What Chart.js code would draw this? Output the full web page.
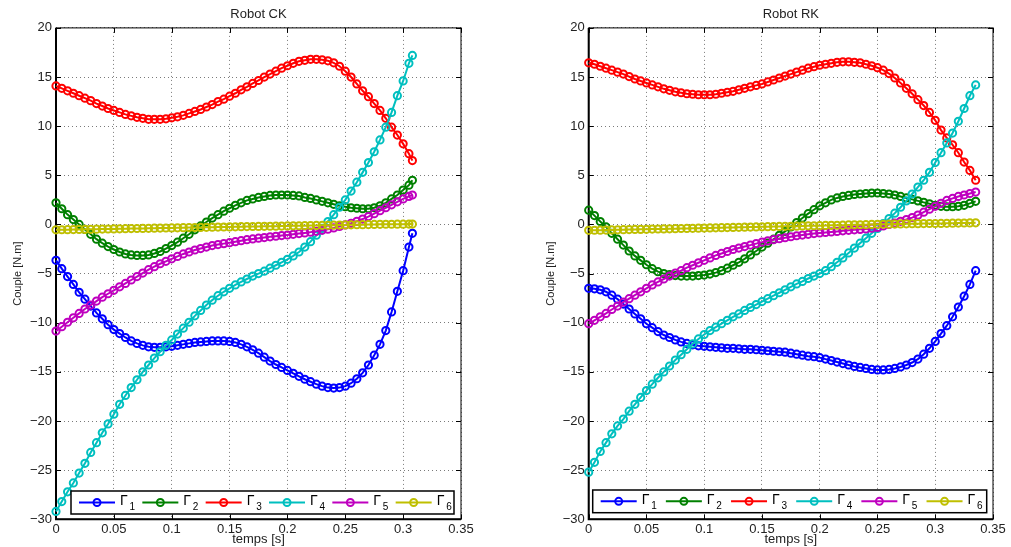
<!DOCTYPE html>
<html>
<head>
<meta charset="utf-8">
<script src="https://cdn.jsdelivr.net/npm/chart.js@4/dist/chart.umd.min.js"></script>
<style>
  html, body { margin: 0; padding: 0; background: #fff; overflow: hidden; }
  #ck { position: absolute; left: 0; top: 0; }
  #rk { position: absolute; left: 532px; top: 0; }
</style>
</head>
<body>
<canvas id="ck" width="500" height="547"></canvas>
<canvas id="rk" width="479" height="547"></canvas>
<script>
// series names and colours (MATLAB default order)
var names = ["Γ1", "Γ2", "Γ3", "Γ4", "Γ5", "Γ6"];
var colors = ["#0000ff", "#008000", "#ff0000", "#00bfbf", "#bf00bf", "#bfbf00"];

// ---- Robot CK ----
var tCK = [
  0, 0.005, 0.01, 0.015, 0.02, 0.025, 0.03, 0.035, 0.04, 0.045,
  0.05, 0.055, 0.06, 0.065, 0.07, 0.075, 0.08, 0.085, 0.09, 0.095,
  0.1, 0.105, 0.11, 0.115, 0.12, 0.125, 0.13, 0.135, 0.14, 0.145,
  0.15, 0.155, 0.16, 0.165, 0.17, 0.175, 0.18, 0.185, 0.19, 0.195,
  0.2, 0.205, 0.21, 0.215, 0.22, 0.225, 0.23, 0.235, 0.24, 0.245,
  0.25, 0.255, 0.26, 0.265, 0.27, 0.275, 0.28, 0.285, 0.29, 0.295,
  0.3, 0.305, 0.308
];
var ckG1 = [
  -3.65, -4.5, -5.3, -6.1, -6.9, -7.6, -8.3, -9.0, -9.6, -10.2,
  -10.7, -11.1, -11.5, -11.85, -12.1, -12.3, -12.45, -12.5, -12.5, -12.45,
  -12.4, -12.3, -12.2, -12.1, -12.0, -11.95, -11.9, -11.85, -11.85, -11.85,
  -11.9, -12.0, -12.2, -12.45, -12.75, -13.1, -13.5, -13.9, -14.25, -14.55,
  -14.85, -15.15, -15.45, -15.75, -16.0, -16.25, -16.45, -16.6, -16.65, -16.6,
  -16.45, -16.15, -15.7, -15.1, -14.3, -13.3, -12.2, -10.8, -8.9, -6.8,
  -4.7, -2.3, -0.9
];
var ckG2 = [
  2.2, 1.6, 1.0, 0.5, 0.0, -0.5, -1.0, -1.5, -1.9, -2.25,
  -2.55, -2.8, -3.0, -3.1, -3.15, -3.15, -3.1, -2.95, -2.75, -2.45,
  -2.15, -1.8, -1.4, -1.0, -0.55, -0.15, 0.25, 0.65, 1.0, 1.35,
  1.65, 1.95, 2.2, 2.45, 2.6, 2.75, 2.85, 2.95, 3.0, 3.0,
  3.0, 2.95, 2.9, 2.75, 2.65, 2.5, 2.35, 2.2, 2.05, 1.9,
  1.8, 1.7, 1.65, 1.6, 1.6, 1.7, 1.9, 2.2, 2.6, 3.0,
  3.5, 4.0, 4.5
];
var ckG3 = [
  14.1, 13.85, 13.6, 13.35, 13.1, 12.85, 12.6, 12.3, 12.05, 11.8,
  11.6, 11.4, 11.2, 11.05, 10.9, 10.8, 10.7, 10.7, 10.7, 10.75,
  10.85, 10.95, 11.1, 11.3, 11.5, 11.7, 11.95, 12.2, 12.5, 12.75,
  13.05, 13.35, 13.7, 14.0, 14.35, 14.65, 15.0, 15.3, 15.6, 15.9,
  16.15, 16.4, 16.6, 16.7, 16.8, 16.8, 16.75, 16.65, 16.45, 16.1,
  15.6, 15.0, 14.3, 13.6, 13.0, 12.3, 11.6, 10.8, 9.9, 9.1,
  8.2, 7.2, 6.5
];
var ckG4 = [
  -29.2, -28.2, -27.2, -26.3, -25.3, -24.3, -23.2, -22.2, -21.2, -20.3,
  -19.3, -18.3, -17.4, -16.6, -15.8, -15.0, -14.3, -13.6, -12.95, -12.3,
  -11.75, -11.15, -10.55, -9.95, -9.3, -8.75, -8.2, -7.7, -7.25, -6.85,
  -6.5, -6.15, -5.85, -5.55, -5.25, -5.0, -4.75, -4.45, -4.15, -3.85,
  -3.55, -3.2, -2.8, -2.3, -1.75, -1.1, -0.4, 0.3, 1.0, 1.75,
  2.5, 3.4, 4.3, 5.3, 6.3, 7.4, 8.6, 9.9, 11.4, 13.1,
  14.6, 16.4, 17.2
];
var ckG5 = [
  -10.85, -10.4, -9.95, -9.5, -9.05, -8.6, -8.2, -7.8, -7.4, -7.05,
  -6.7, -6.35, -6.0, -5.65, -5.3, -4.95, -4.6, -4.3, -4.0, -3.75,
  -3.5, -3.25, -3.0, -2.8, -2.6, -2.45, -2.3, -2.15, -2.05, -1.95,
  -1.85, -1.75, -1.65, -1.55, -1.47, -1.4, -1.33, -1.26, -1.2, -1.13,
  -1.07, -1.0, -0.93, -0.86, -0.78, -0.7, -0.6, -0.48, -0.35, -0.2,
  -0.05, 0.12, 0.32, 0.55, 0.8, 1.1, 1.4, 1.7, 2.0, 2.3,
  2.6, 2.85, 3.0
];
var ckG6 = [
  -0.55, -0.54, -0.53, -0.52, -0.51, -0.5, -0.49, -0.48, -0.47, -0.46,
  -0.45, -0.44, -0.43, -0.42, -0.41, -0.4, -0.39, -0.38, -0.37, -0.36,
  -0.35, -0.34, -0.33, -0.32, -0.31, -0.3, -0.29, -0.28, -0.27, -0.26,
  -0.25, -0.24, -0.23, -0.22, -0.21, -0.2, -0.19, -0.18, -0.17, -0.16,
  -0.15, -0.14, -0.13, -0.12, -0.11, -0.1, -0.09, -0.08, -0.07, -0.06,
  -0.05, -0.04, -0.03, -0.02, -0.01, 0.0, 0.01, 0.02, 0.02, 0.03,
  0.03, 0.04, 0.04
];

// ---- Robot RK ----
var tRK = [
  0, 0.005, 0.01, 0.015, 0.02, 0.025, 0.03, 0.035, 0.04, 0.045,
  0.05, 0.055, 0.06, 0.065, 0.07, 0.075, 0.08, 0.085, 0.09, 0.095,
  0.1, 0.105, 0.11, 0.115, 0.12, 0.125, 0.13, 0.135, 0.14, 0.145,
  0.15, 0.155, 0.16, 0.165, 0.17, 0.175, 0.18, 0.185, 0.19, 0.195,
  0.2, 0.205, 0.21, 0.215, 0.22, 0.225, 0.23, 0.235, 0.24, 0.245,
  0.25, 0.255, 0.26, 0.265, 0.27, 0.275, 0.28, 0.285, 0.29, 0.295,
  0.3, 0.305, 0.31, 0.315, 0.32, 0.325, 0.33, 0.335
];
var rkG1 = [
  -6.5, -6.55, -6.65, -6.85, -7.2, -7.6, -8.1, -8.6, -9.1, -9.6,
  -10.1, -10.5, -10.9, -11.25, -11.5, -11.75, -11.95, -12.1, -12.25, -12.35,
  -12.4, -12.45, -12.5, -12.55, -12.6, -12.6, -12.65, -12.7, -12.7, -12.75,
  -12.8, -12.85, -12.9, -12.95, -13.0, -13.1, -13.2, -13.3, -13.4, -13.45,
  -13.55, -13.7, -13.85, -14.0, -14.15, -14.3, -14.45, -14.55, -14.65, -14.75,
  -14.8, -14.8, -14.75, -14.65, -14.5, -14.3, -14.05, -13.7, -13.2, -12.6,
  -11.9, -11.1, -10.3, -9.4, -8.4, -7.3, -6.1, -4.7
];
var rkG2 = [
  1.45, 0.9, 0.3, -0.25, -0.9, -1.5, -2.1, -2.7, -3.2, -3.65,
  -4.1, -4.5, -4.8, -5.0, -5.1, -5.2, -5.25, -5.25, -5.25, -5.2,
  -5.15, -5.05, -4.9, -4.7, -4.45, -4.15, -3.85, -3.5, -3.1, -2.7,
  -2.3, -1.9, -1.5, -1.1, -0.7, -0.25, 0.2, 0.65, 1.1, 1.5,
  1.9, 2.2, 2.5, 2.7, 2.85, 2.95, 3.05, 3.1, 3.15, 3.2,
  3.2, 3.15, 3.1, 3.0, 2.85, 2.7, 2.55, 2.4, 2.25, 2.1,
  1.95, 1.85, 1.8, 1.8, 1.85, 1.95, 2.15, 2.35
];
var rkG3 = [
  16.45, 16.3, 16.1, 15.9, 15.7, 15.5, 15.3, 15.05, 14.8, 14.6,
  14.4, 14.2, 14.0, 13.8, 13.65, 13.5, 13.4, 13.3, 13.25, 13.2,
  13.2, 13.2, 13.25, 13.35, 13.45, 13.55, 13.7, 13.85, 14.0, 14.15,
  14.3, 14.5, 14.7, 14.9, 15.1, 15.3, 15.5, 15.7, 15.9, 16.05,
  16.2, 16.3, 16.4, 16.5, 16.55, 16.55, 16.5, 16.45, 16.3, 16.15,
  15.95, 15.7, 15.35, 14.9, 14.4, 13.85, 13.3, 12.7, 12.1, 11.4,
  10.6, 9.6, 8.8, 8.1, 7.3, 6.35, 5.5, 4.5
];
var rkG4 = [
  -25.2, -24.2, -23.1, -22.2, -21.3, -20.5, -19.8, -19.0, -18.3, -17.6,
  -16.9, -16.25, -15.6, -15.0, -14.4, -13.8, -13.25, -12.7, -12.15, -11.65,
  -11.2, -10.8, -10.45, -10.1, -9.75, -9.4, -9.1, -8.75, -8.45, -8.15,
  -7.85, -7.55, -7.25, -6.95, -6.65, -6.35, -6.05, -5.8, -5.5, -5.25,
  -5.0, -4.7, -4.3, -3.85, -3.4, -2.9, -2.4, -1.9, -1.4, -0.9,
  -0.4, 0.1, 0.6, 1.15, 1.75, 2.4, 3.1, 3.8, 4.5, 5.3,
  6.3, 7.3, 8.3, 9.3, 10.5, 11.8, 13.1, 14.2
];
var rkG5 = [
  -10.1, -9.75, -9.4, -9.05, -8.65, -8.3, -7.9, -7.55, -7.2, -6.85,
  -6.5, -6.15, -5.85, -5.55, -5.25, -4.95, -4.7, -4.4, -4.15, -3.9,
  -3.65, -3.4, -3.15, -2.95, -2.75, -2.55, -2.4, -2.25, -2.1, -1.95,
  -1.8, -1.67, -1.55, -1.45, -1.35, -1.25, -1.15, -1.08, -1.0, -0.93,
  -0.87, -0.82, -0.76, -0.71, -0.65, -0.6, -0.55, -0.5, -0.45, -0.38,
  -0.3, -0.15, 0.0, 0.15, 0.32, 0.5, 0.7, 0.95, 1.25, 1.55,
  1.85, 2.15, 2.45, 2.65, 2.85, 3.0, 3.15, 3.3
];
var rkG6 = [
  -0.6, -0.59, -0.58, -0.57, -0.56, -0.55, -0.53, -0.52, -0.51, -0.5,
  -0.49, -0.47, -0.46, -0.45, -0.44, -0.43, -0.41, -0.4, -0.39, -0.38,
  -0.37, -0.35, -0.34, -0.33, -0.32, -0.3, -0.29, -0.28, -0.27, -0.25,
  -0.24, -0.23, -0.22, -0.2, -0.19, -0.18, -0.17, -0.15, -0.14, -0.13,
  -0.12, -0.1, -0.09, -0.08, -0.07, -0.05, -0.04, -0.03, -0.02, 0.0,
  0.01, 0.02, 0.03, 0.04, 0.05, 0.06, 0.07, 0.08, 0.09, 0.1,
  0.1, 0.11, 0.12, 0.13, 0.14, 0.15, 0.16, 0.17
];

var FONT = "'Liberation Sans', Arial, Helvetica, sans-serif";
Chart.defaults.font.family = FONT;
Chart.defaults.color = "#222";

// box around the axes + inward tick marks on all four sides
var axesBox = {
  id: "axesBox",
  beforeDatasetsDraw: function (chart) {
    var a = chart.chartArea, ctx = chart.ctx;
    var xs = chart.scales.x, ys = chart.scales.y;
    ctx.save();
    ctx.strokeStyle = "#000";
    ctx.lineWidth = 1;
    ctx.beginPath();
    xs.ticks.forEach(function (t) {
      var px = Math.round(xs.getPixelForValue(t.value)) + 0.5;
      ctx.moveTo(px, a.bottom); ctx.lineTo(px, a.bottom - 5);
      ctx.moveTo(px, a.top); ctx.lineTo(px, a.top + 5);
    });
    ys.ticks.forEach(function (t) {
      var py = Math.round(ys.getPixelForValue(t.value)) + 0.5;
      ctx.moveTo(a.left, py); ctx.lineTo(a.left + 5, py);
      ctx.moveTo(a.right, py); ctx.lineTo(a.right - 5, py);
    });
    ctx.stroke();
    ctx.strokeRect(a.left, a.top, a.right - a.left, a.bottom - a.top);
    ctx.lineWidth = 2;
    ctx.beginPath();
    ctx.moveTo(a.left, a.top); ctx.lineTo(a.left, a.bottom); ctx.lineTo(a.right, a.bottom);
    ctx.stroke();
    ctx.restore();
  }
};

// MATLAB-like legend box inside the plot area
var boxLegend = {
  id: "boxLegend",
  afterDatasetsDraw: function (chart, args, opts) {
    var a = chart.chartArea, ctx = chart.ctx;
    var x0 = a.left + opts.left, x1 = a.right - opts.right;
    var y0 = a.bottom - opts.bottom - opts.height, h = opts.height;
    var sets = chart.data.datasets;
    ctx.save();
    ctx.fillStyle = "#fff";
    ctx.fillRect(x0, y0, x1 - x0, h);
    ctx.lineWidth = 1.5;
    ctx.strokeStyle = "#000";
    ctx.strokeRect(x0, y0, x1 - x0, h);
    var step = (x1 - x0 - 3) / sets.length;
    var cy = y0 + h / 2;
    sets.forEach(function (ds, i) {
      var mx = x0 + 26 + i * step;
      ctx.strokeStyle = ds.borderColor;
      ctx.lineWidth = 2;
      ctx.beginPath();
      ctx.moveTo(mx - 18, cy); ctx.lineTo(mx + 18, cy);
      ctx.stroke();
      ctx.beginPath();
      ctx.arc(mx, cy, 3.5, 0, Math.PI * 2);
      ctx.stroke();
      ctx.fillStyle = "#000";
      ctx.textBaseline = "middle";
      ctx.textAlign = "left";
      ctx.font = "14px " + FONT;
      ctx.fillText(ds.label.charAt(0), mx + 23, cy - 1);
      ctx.font = "10px " + FONT;
      ctx.fillText(ds.label.slice(1), mx + 32.5, cy + 5);
    });
    ctx.restore();
  }
};

function makeSets(t, series) {
  return series.map(function (vals, i) {
    return {
      label: names[i],
      data: t.map(function (x, k) { return { x: x, y: vals[k] }; }),
      showLine: true,
      borderColor: colors[i],
      borderWidth: 2,
      pointStyle: "circle",
      pointRadius: 3.6,
      pointBorderWidth: 2,
      pointBorderColor: colors[i],
      pointBackgroundColor: "rgba(0,0,0,0)",
      clip: false,
      order: series.length - i
    };
  });
}

function makeChart(id, title, t, series, yWidth, padRight, yTitlePad, legendOpts) {
  return new Chart(document.getElementById(id), {
    type: "scatter",
    data: { datasets: makeSets(t, series) },
    options: {
      responsive: false,
      animation: false,
      devicePixelRatio: 1,
      layout: { padding: { left: 0, right: padRight, top: 0, bottom: 0 } },
      plugins: {
        legend: { display: false },
        tooltip: { enabled: false },
        title: {
          display: true, text: title, fullSize: false, color: "#222",
          font: { size: 13, weight: "normal" },
          padding: { top: 6.5, bottom: 5.8 }
        },
        boxLegend: legendOpts
      },
      scales: {
        x: {
          type: "linear", min: 0, max: 0.35,
          afterFit: function (s) { s.height = 27.7; },
          ticks: {
            stepSize: 0.05, autoSkip: false, maxRotation: 0, padding: 2.5,
            font: { size: 13 }, color: "#222",
            callback: function (v) { return String(+v.toFixed(2)); }
          },
          grid: { color: "#7a7a7a", lineWidth: 1, drawTicks: false },
          border: { display: false, dash: [1, 3] },
          title: { display: true, text: "temps [s]", font: { size: 13 }, color: "#222", padding: 0 }
        },
        y: {
          type: "linear", min: -30, max: 20,
          afterFit: function (s) { s.width = yWidth; },
          ticks: {
            stepSize: 5, padding: 4, font: { size: 13 }, color: "#222",
            callback: function (v) { return v < 0 ? "\u2212" + (-v) : String(v); }
          },
          grid: { color: "#7a7a7a", lineWidth: 1, drawTicks: false },
          border: { display: false, dash: [1, 3] },
          title: { display: true, text: "Couple [N.m]", font: { size: 11 }, color: "#222", padding: { top: yTitlePad, bottom: 0 } }
        }
      }
    },
    plugins: [axesBox, boxLegend]
  });
}

makeChart("ck", "Robot CK", tCK, [ckG1, ckG2, ckG3, ckG4, ckG5, ckG6], 56, 39, 11.4,
  { left: 15, right: 7, bottom: 5.3, height: 23 });
makeChart("rk", "Robot RK", tRK, [rkG1, rkG2, rkG3, rkG4, rkG5, rkG6], 56.7, 18, 12.4,
  { left: 4, right: 6.3, bottom: 6.6, height: 22.7 });
</script>
</body>
</html>
